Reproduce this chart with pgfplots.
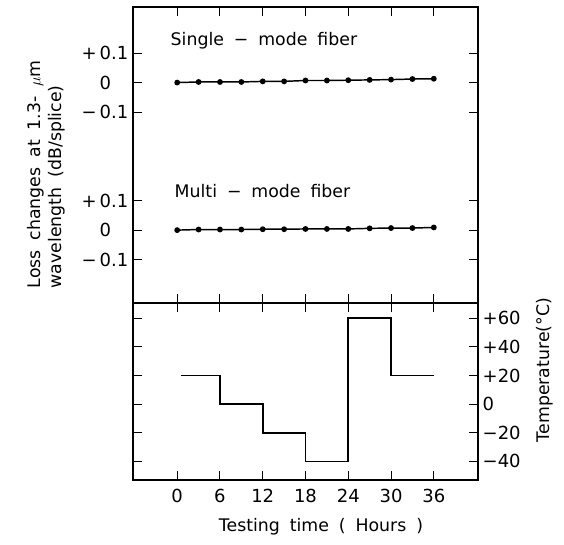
\documentclass[border=0pt]{standalone}
\usepackage{pgfplots}
\usepackage{pgfplotstable}
\pgfplotsset{compat=1.18}
\usepackage{fontspec}
\setmainfont{DejaVu Sans}[WordSpace=1.8]

\pgfplotstableread{
t    dB
0    0
3    0.002
6    0.002
9    0.002
12   0.004
15   0.004
18   0.007
21   0.007
24   0.008
27   0.009
30   0.010
33   0.012
36   0.013
}\singlemode

\pgfplotstableread{
t    dB
0    0
3    0.002
6    0.002
9    0.002
12   0.003
15   0.003
18   0.004
21   0.004
24   0.004
27   0.006
30   0.007
33   0.007
36   0.009
}\multimode

\begin{document}
\begin{tikzpicture}
% page frame in reference pixels (1px = 0.75pt, y downwards)
\begin{scope}[x=0.75pt,y=-0.75pt]
  \path[use as bounding box] (0,0) rectangle (564,544);
\end{scope}

\pgfplotsset{
  panel/.style={
    scale only axis, width=258.75pt,
    xmin=-6.2, xmax=42.2, xtick={0,6,...,36},
    tick align=inside, major tick length=7pt,
    axis line style={line width=1pt},
    every tick/.style={black, line width=0.8pt},
    tick label style={font=\fontsize{13.5}{15}\selectfont},
    /pgf/number format/assume math mode=true,
    clip=false,
  },
}

% loss changes (one box, two offset scales: 1 unit = 0.1 dB)
\begin{axis}[panel,
  at={(99.75pt,-227.25pt)}, anchor=south west, height=222pt,
  ymin=-2.47, ymax=7.56,
  ytick={-1,0,1,4,5,6},
  yticklabels={−\,0.1, 0\phantom{.1}, +\,0.1, −\,0.1, 0\phantom{.1}, +\,0.1},
  xticklabels={},
]
\addplot[black, line width=1.1pt, mark=*, mark size=1.6pt]
  table[x=t, y expr=5+10*\thisrow{dB}] {\singlemode};
\addplot[black, line width=1.1pt, mark=*, mark size=1.6pt]
  table[x=t, y expr=10*\thisrow{dB}] {\multimode};
\end{axis}

% temperature profile
\begin{axis}[panel,
  at={(99.75pt,-360pt)}, anchor=south west, height=132.75pt,
  ymin=-53, ymax=70.6,
  ytick={-40,-20,...,60},
  yticklabels={−40,−20,0,+20,+40,+60},
  yticklabel pos=right,
  xticklabels={0,6,12,18,24,30,36},
  xticklabel style={yshift=-3pt},
]
\addplot[const plot, black, line width=1.2pt]
  coordinates {(0.5,20) (6,0) (12,-20) (18,-40) (24,60) (30,20) (36,20)};
\end{axis}

\begin{scope}[x=0.75pt,y=-0.75pt, every node/.style={font=\fontsize{13}{15.5}\selectfont}]
  \node[anchor=west] at (166,41) {Single − mode fiber};
  \node[anchor=west] at (170,191) {Multi − mode fiber};
  \node[rotate=90, anchor=west, align=left] at (46,293)
    {Loss changes at 1.3- $\mu$m\\wavelength (dB/splice)};
  \node[rotate=90] at (545,370) {Temperature(°C)};
  \node at (321,527) {Testing time ( Hours )};
\end{scope}
\end{tikzpicture}
\end{document}
